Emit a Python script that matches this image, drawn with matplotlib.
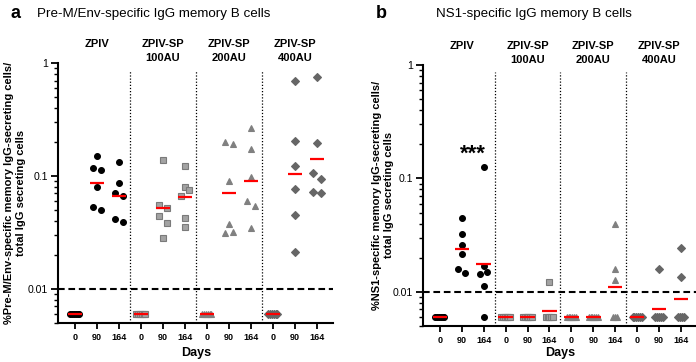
import numpy as np
import matplotlib
matplotlib.use("Agg")
import matplotlib.pyplot as plt
from matplotlib.transforms import blended_transform_factory
from matplotlib.ticker import LogLocator, NullFormatter

plt.rcParams['font.family'] = ['Liberation Sans', 'DejaVu Sans']

# ---------------- data ----------------
days = ["0", "90", "164"]
group_line1 = ["ZPIV", "ZPIV-SP", "ZPIV-SP", "ZPIV-SP"]
group_line2 = ["", "100AU", "200AU", "400AU"]
cutoff = 0.01

# Panel a: Pre-M/Env-specific (per group: day 0, day 90, day 164)
a_zpiv = [
    [0.006, 0.006, 0.006, 0.006, 0.006, 0.006],
    [0.151, 0.118, 0.112, 0.0807, 0.0535, 0.050],
    [0.134, 0.0867, 0.070, 0.0665, 0.0414, 0.0394],
]
a_sp100 = [
    [0.006, 0.006, 0.006, 0.006, 0.006, 0.006],
    [0.139, 0.0551, 0.0524, 0.0443, 0.0386, 0.0284],
    [0.123, 0.0794, 0.0752, 0.0671, 0.0428, 0.0356],
]
a_sp200 = [
    [0.006, 0.006, 0.006, 0.006, 0.006, 0.006],
    [0.201, 0.192, 0.0908, 0.0374, 0.0319, 0.0311],
    [0.264, 0.175, 0.098, 0.0604, 0.0546, 0.0344],
]
a_sp400 = [
    [0.006, 0.006, 0.006, 0.006, 0.006, 0.006],
    [0.697, 0.205, 0.122, 0.0771, 0.0449, 0.0212],
    [0.746, 0.195, 0.106, 0.0946, 0.0726, 0.0711],
]

# Panel b: NS1-specific
b_zpiv = [
    [0.006, 0.006, 0.006, 0.006, 0.006, 0.006],
    [0.0446, 0.0322, 0.026, 0.0215, 0.0158, 0.0147],
    [0.126, 0.0169, 0.0149, 0.0145, 0.0113, 0.006],
]
b_sp100 = [
    [0.006, 0.006, 0.006, 0.006, 0.006, 0.006],
    [0.006, 0.006, 0.006, 0.006, 0.006, 0.006],
    [0.0122, 0.006, 0.006, 0.006, 0.006, 0.006],
]
b_sp200 = [
    [0.006, 0.006, 0.006, 0.006, 0.006, 0.006],
    [0.006, 0.006, 0.006, 0.006, 0.006, 0.006],
    [0.0394, 0.0158, 0.0127, 0.006, 0.006, 0.006],
]
b_sp400 = [
    [0.006, 0.006, 0.006, 0.006, 0.006, 0.006],
    [0.016, 0.006, 0.006, 0.006, 0.006, 0.006],
    [0.0244, 0.0134, 0.006, 0.006, 0.006, 0.006],
]

panel_a = [a_zpiv, a_sp100, a_sp200, a_sp400]
panel_b = [b_zpiv, b_sp100, b_sp200, b_sp400]

# ---------------- style ----------------
styles = [
    dict(marker='o', mfc='#000000', mec='#000000', ms=4.2),
    dict(marker='s', mfc='#a3a3a3', mec='#7a7a7a', ms=4.3),
    dict(marker='^', mfc='#808080', mec='#808080', ms=4.9),
    dict(marker='D', mfc='#666666', mec='#666666', ms=3.8),
]

W, H = 696, 362
fig = plt.figure(figsize=(W / 100, H / 100), dpi=100)


def fx(px):
    return px / W


def fy(py):
    return 1 - py / H


def swarm(ax, x0, vals):
    vals = np.asarray(vals, float)
    pts = ax.transData.transform(np.column_stack([np.full(len(vals), x0), vals]))
    ypix = pts[:, 1]
    pxu = ax.transData.transform([(1, 1)])[0, 0] - ax.transData.transform([(0, 1)])[0, 0]
    order = list(np.argsort(-ypix))
    offs = np.zeros(len(vals))
    clusters, cur = [], [order[0]]
    for i in order[1:]:
        if abs(ypix[cur[-1]] - ypix[i]) < 8.8:
            cur.append(i)
        else:
            clusters.append(cur)
            cur = [i]
    clusters.append(cur)
    for c in clusters:
        n = len(c)
        if n == 1:
            continue
        if np.ptp(ypix[c]) < 0.5:
            step = 1.8 / pxu
            for k, i in enumerate(c):
                offs[i] = (k - (n - 1) / 2) * step
        else:
            h = 3.7 / pxu
            if n % 2 == 1:
                pattern = [0] + [h if k % 2 == 0 else -h for k in range(n - 1)]
            else:
                pattern = [(-h if k % 2 == 0 else h) for k in range(n)]
            for k, i in enumerate(c):
                offs[i] = pattern[k]
    return offs


def draw_panel(rect, data, label_x_px, title_x_px, letter_x_px, title, ylabel, days_x_px, top_px):
    ax = fig.add_axes(rect)
    ax.set_yscale('log')
    ax.set_ylim(0.005, 1)
    ax.set_xlim(-0.77, 11.73)
    for s in ['top', 'right']:
        ax.spines[s].set_visible(False)
    for s in ['left', 'bottom']:
        ax.spines[s].set_linewidth(1.5)

    ax.set_yticks([0.01, 0.1, 1])
    ax.set_yticklabels(['0.01', '0.1', '1'], fontsize=7.6)
    ax.yaxis.set_minor_locator(LogLocator(base=10, subs=np.arange(2, 10)))
    ax.yaxis.set_minor_formatter(NullFormatter())
    ax.tick_params(axis='y', which='major', length=5, width=1.3, pad=2)
    ax.tick_params(axis='y', which='minor', length=3, width=1.0)

    ax.set_xticks(np.arange(12))
    ax.set_xticklabels(days * 4, fontsize=6.5, fontweight='bold')
    ax.tick_params(axis='x', length=4, width=1.3, pad=3)

    ax.axhline(cutoff, color='black', lw=1.5, ls=(0, (3.2, 1.8)), zorder=2, clip_on=False)
    for sx in [2.5, 5.5, 8.5]:
        ax.axvline(sx, ymin=0, ymax=0.973, color='black', lw=0.9, ls=(0, (1, 1.5)), zorder=1)

    for g, gdata in enumerate(data):
        st = styles[g]
        for d, vals in enumerate(gdata):
            x0 = 3 * g + d
            offs = swarm(ax, x0, vals)
            ax.plot(x0 + offs, vals, ls='none', marker=st['marker'], mfc=st['mfc'],
                    mec=st['mec'], ms=st['ms'], mew=0.8, zorder=3, clip_on=False)
            gm = 10 ** np.mean(np.log10(vals))
            ax.hlines(gm, x0 - 0.33, x0 + 0.33, color='#ff0000', lw=1.6, zorder=5)

    tr = blended_transform_factory(ax.transData, fig.transFigure)
    for g in range(4):
        ax.text(3 * g + 1, fy(top_px - 16), group_line1[g], transform=tr, ha='center',
                va='baseline', fontsize=8, fontweight='bold')
        if group_line2[g]:
            ax.text(3 * g + 1, fy(top_px - 2), group_line2[g], transform=tr, ha='center',
                    va='baseline', fontsize=8, fontweight='bold')

    fig.text(fx(letter_x_px), fy(14), title[0], ha='center', va='center',
             fontsize=13, fontweight='bold')
    fig.text(fx(title_x_px), fy(14), title[1], ha='left', va='center', fontsize=9.6)
    fig.text(fx(label_x_px), fy(top_px + 130), ylabel, rotation=90, ha='center', va='center',
             fontsize=8, fontweight='bold', multialignment='center', linespacing=1.25)
    fig.text(fx(days_x_px), fy(353), 'Days', ha='center', va='center', fontsize=9,
             fontweight='bold')
    return ax, tr


ax_a, tr_a = draw_panel([fx(58), fy(323), fx(275), 260 / H], panel_a, 15, 37, 15,
                        ('a', 'Pre-M/Env-specific IgG memory B cells'),
                        '%Pre-M/Env-specific memory IgG-secreting cells/\ntotal IgG secreting cells',
                        196, 63)
ax_b, tr_b = draw_panel([fx(423), fy(326), fx(274), 261 / H], panel_b, 383, 436, 381,
                        ('b', 'NS1-specific IgG memory B cells'),
                        '%NS1-specific memory IgG-secreting cells/\ntotal IgG secreting cells',
                        560, 65)

ax_b.text(1.5, fy(160), '***', transform=tr_b, ha='center', va='baseline',
          fontsize=16, fontweight='bold')

fig.savefig('out.png', dpi=100)
